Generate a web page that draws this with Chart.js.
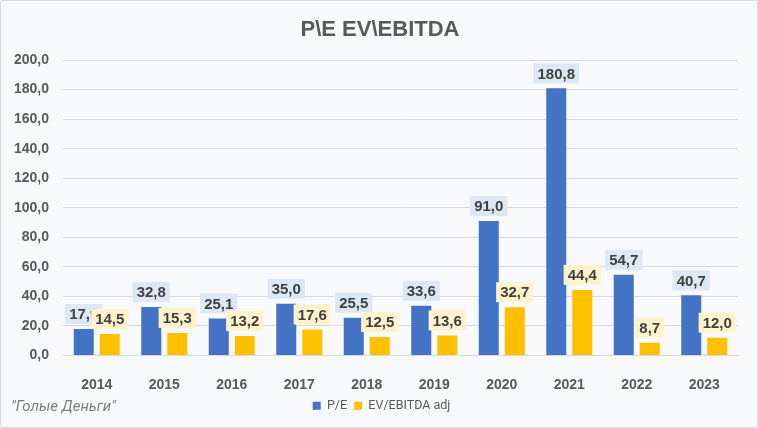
<!DOCTYPE html>
<html><head><meta charset="utf-8">
<script src="https://cdn.jsdelivr.net/npm/chart.js@4"></script>
<style>
html,body{margin:0;padding:0;background:#fff;}
#wrap{position:relative;width:758px;height:428px;box-sizing:border-box;border:1px solid #d9d9d9;border-radius:3px;background:#f8f9fb;overflow:hidden;}
canvas{position:absolute;left:0;top:0;}
#title{position:absolute;left:0;width:758px;top:14px;text-align:center;font:bold 22px "Liberation Sans",Arial,sans-serif;color:#595959;line-height:28px;}
#src{position:absolute;left:10px;top:396px;font:italic 15px "Liberation Sans Narrow","Roboto",sans-serif;color:#7f7f7f;}
</style></head><body>
<div id="wrap"><canvas id="c" width="758" height="428"></canvas><div id="title"></div><div id="src">"Голые Деньги"</div></div>
<script>
const categories = ["2014","2015","2016","2017","2018","2019","2020","2021","2022","2023"];
const peValues = [17.9, 32.8, 25.1, 35.0, 25.5, 33.6, 91.0, 180.8, 54.7, 40.7];
const evValues = [14.5, 15.3, 13.2, 17.6, 12.5, 13.6, 32.7, 44.4, 8.7, 12.0];
const seriesNames = ["P/E", "EV/EBITDA adj"];
const titleText = "P\\E EV\\EBITDA";
document.getElementById('title').textContent = titleText;

const fmt = v => v.toFixed(1).replace('.', ',');

const labelPlugin = {
  id: 'boxLabels',
  afterLayout(chart) {
    if (chart.legend) { chart.legend.left += 12; chart.legend.right += 12; }
  },
  afterDatasetsDraw(chart) {
    const ctx = chart.ctx;
    const bgs = ['#dde8f4', '#fff2cc'];
    ctx.save();
    ctx.font = 'bold 15px "Liberation Sans", Arial, sans-serif';
    ctx.textAlign = 'center';
    ctx.textBaseline = 'middle';
    chart.data.datasets.forEach((ds, di) => {
      const meta = chart.getDatasetMeta(di);
      meta.data.forEach((bar, i) => {
        const txt = fmt(ds.data[i]);
        const w = ctx.measureText(txt).width + 8;
        const h = 20;
        const cx = bar.x;
        const bottom = bar.y - 5;
        ctx.fillStyle = bgs[di];
        ctx.fillRect(cx - w / 2, bottom - h, w, h);
        ctx.fillStyle = '#404040';
        ctx.fillText(txt, cx, bottom - h / 2 + 1);
      });
    });
    ctx.restore();
  }
};

new Chart(document.getElementById('c'), {
  type: 'bar',
  data: {
    labels: categories,
    datasets: [
      { label: seriesNames[0], data: peValues, backgroundColor: '#4472c4', categoryPercentage: 0.77, barPercentage: 0.77 },
      { label: seriesNames[1], data: evValues, backgroundColor: '#ffc000', categoryPercentage: 0.77, barPercentage: 0.77 }
    ]
  },
  options: {
    responsive: false,
    animation: false,
    devicePixelRatio: 1,
    layout: { padding: { left: 0, right: 21, top: 59, bottom: 7 } },
    plugins: {
      title: { display: false },
      legend: {
        position: 'bottom',
        labels: {
          boxWidth: 8, boxHeight: 8, color: '#595959', padding: 7,
          font: { family: 'Roboto, "Liberation Sans", sans-serif', size: 12.5 }
        }
      },
      tooltip: { enabled: false }
    },
    scales: {
      x: {
        afterFit(scale) { scale.height = 37; },
        grid: { display: false, drawTicks: false },
        border: { display: true, color: '#d9d9d9' },
        ticks: { color: '#595959', padding: 21, font: { family: '"Liberation Sans", Arial, sans-serif', size: 14, weight: 'bold' } }
      },
      y: {
        min: 0, max: 200,
        afterFit(scale) { scale.width = 62; },
        grid: { color: '#d9d9d9', drawTicks: false },
        border: { display: false },
        ticks: { stepSize: 20, padding: 14, color: '#595959', callback: v => fmt(v),
          font: { family: '"Liberation Sans", Arial, sans-serif', size: 14, weight: 'bold' } }
      }
    }
  },
  plugins: [labelPlugin]
});
</script>
</body></html>
